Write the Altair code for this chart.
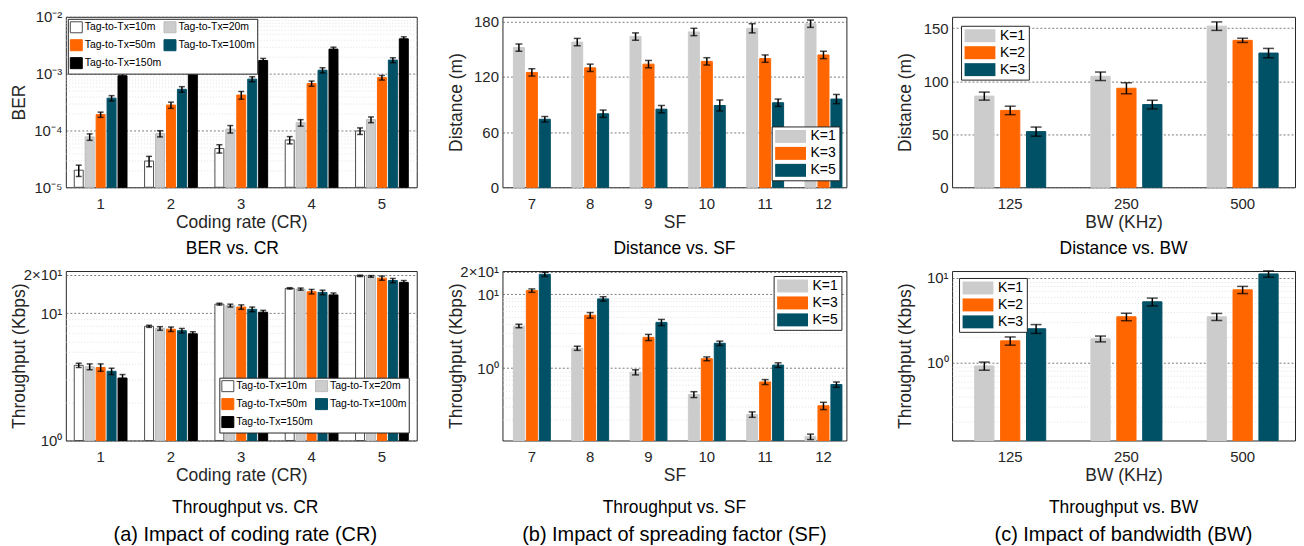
import altair as alt
import pandas as pd

FONT = "Liberation Sans"
TXT = "#262626"

# ---------------- (a) coding rate ----------------
cr_cats = ["1", "2", "3", "4", "5"]
cr_series = ["Tag-to-Tx=10m", "Tag-to-Tx=20m", "Tag-to-Tx=50m", "Tag-to-Tx=100m", "Tag-to-Tx=150m"]
cr_fills = ["#ffffff", "#cccccc", "#ff6600", "#005066", "#000000"]
cr_strokes = ["#4d4d4d", "#bdbdbd", "#ff6600", "#005066", "#000000"]

ber_10m = [2.0e-5, 2.9e-5, 4.8e-5, 6.8e-5, 9.8e-5]
ber_20m = [7.7e-5, 8.8e-5, 1.06e-4, 1.37e-4, 1.55e-4]
ber_50m = [1.9e-4, 2.8e-4, 4.2e-4, 6.7e-4, 8.5e-4]
ber_100m = [3.7e-4, 5.3e-4, 8.0e-4, 1.15e-3, 1.73e-3]
ber_150m = [9.2e-4, 1.12e-3, 1.7e-3, 2.7e-3, 4.1e-3]
ber_err_10m = [0.45e-5, 0.6e-5, 0.8e-5, 1.0e-5, 1.3e-5]
ber_err_20m = [1.0e-5, 1.1e-5, 1.6e-5, 1.8e-5, 1.8e-5]
ber_err_50m = [2.0e-5, 3.5e-5, 6.5e-5, 7.0e-5, 8.0e-5]
ber_err_100m = [4.0e-5, 6.0e-5, 8.0e-5, 1.2e-4, 1.7e-4]
ber_err_150m = [8.0e-5, 1.1e-4, 1.5e-4, 2.2e-4, 3.5e-4]

thr_cr_10m = [3.9, 7.9, 11.8, 15.7, 19.7]
thr_cr_20m = [3.8, 7.6, 11.5, 15.5, 19.5]
thr_cr_50m = [3.75, 7.5, 11.2, 14.8, 18.9]
thr_cr_100m = [3.5, 7.3, 10.75, 14.6, 18.1]
thr_cr_150m = [3.1, 6.9, 10.2, 13.95, 17.5]
thr_cr_err_10m = [0.15, 0.15, 0.2, 0.2, 0.25]
thr_cr_err_20m = [0.2, 0.25, 0.3, 0.3, 0.3]
thr_cr_err_50m = [0.25, 0.3, 0.45, 0.6, 0.7]
thr_cr_err_100m = [0.2, 0.3, 0.45, 0.6, 0.7]
thr_cr_err_150m = [0.2, 0.25, 0.35, 0.5, 0.6]

# ---------------- (b) spreading factor ----------------
sf_cats = ["7", "8", "9", "10", "11", "12"]
sf_series = ["K=1", "K=3", "K=5"]
k_fills = ["#cccccc", "#ff6600", "#005066"]

dist_sf_k1 = [152, 158, 164, 169, 173, 178]
dist_sf_k3 = [125, 130, 134, 137, 140, 144]
dist_sf_k5 = [74, 80, 85, 89, 92, 96]
dist_sf_err_k1 = [4, 4, 4, 4, 5, 4]
dist_sf_err_k3 = [4, 4, 4, 4, 4, 4]
dist_sf_err_k5 = [3, 4, 4, 6, 4, 5]

thr_sf_k1 = [3.71, 1.86, 0.88, 0.44, 0.236, 0.118]
thr_sf_k3 = [11.2, 5.2, 2.61, 1.34, 0.65, 0.31]
thr_sf_k5 = [18.6, 8.65, 4.16, 2.17, 1.10, 0.60]
thr_sf_err_k1 = [0.2, 0.12, 0.07, 0.04, 0.02, 0.01]
thr_sf_err_k3 = [0.6, 0.45, 0.25, 0.08, 0.05, 0.035]
thr_sf_err_k5 = [1.2, 0.6, 0.4, 0.15, 0.08, 0.05]

# ---------------- (c) bandwidth ----------------
bw_cats = ["125", "250", "500"]
bw_series = ["K=1", "K=2", "K=3"]

dist_bw_k1 = [86, 104.7, 152]
dist_bw_k2 = [72.5, 93.4, 138.6]
dist_bw_k3 = [52.5, 78, 126.6]
dist_bw_err_k1 = [3.8, 4, 4]
dist_bw_err_k2 = [4, 5.2, 2]
dist_bw_err_k3 = [4.3, 4.1, 4.4]

thr_bw_k1 = [0.91, 1.9, 3.46]
thr_bw_k2 = [1.8, 3.46, 7.2]
thr_bw_k3 = [2.5, 5.2, 11.1]
thr_bw_err_k1 = [0.1, 0.15, 0.33]
thr_bw_err_k2 = [0.2, 0.35, 0.7]
thr_bw_err_k3 = [0.3, 0.55, 0.95]


def make_df(cats, series, vals, errs):
    rows = []
    for s, v, e in zip(series, vals, errs):
        for c, vv, ee in zip(cats, v, e):
            rows.append({"cat": c, "series": s, "value": vv, "lo": vv - ee, "hi": vv + ee})
    return pd.DataFrame(rows)


RECT_SQ = "M-1,-0.92H1V0.92H-1Z"
RECT_WIDE = "M-2.38,-1H2.38V1H-2.38Z"


def leg_small(orient, offset):
    return alt.Legend(title=None, orient=orient, offset=offset, columns=2, direction="horizontal",
                      gridAlign="none", symbolType=RECT_SQ, symbolSize=144, labelFontSize=10.5,
                      labelFont=FONT, labelColor="black", strokeColor=TXT, fillColor="white",
                      padding=2, rowPadding=1, columnPadding=0, labelOffset=2, symbolStrokeWidth=1)


def leg_k(orient, offset):
    return alt.Legend(title=None, orient=orient, offset=offset, symbolType=RECT_WIDE,
                      symbolSize=169, symbolOffset=9, labelFontSize=14, labelFont=FONT,
                      labelColor="black", strokeColor=TXT, fillColor="white", padding=3,
                      rowPadding=3, labelOffset=13, symbolStrokeWidth=0)


def panel(df, cats, series, fills, strokes, w, h, ydomain, ylog, yticks, ylabels, minor,
          ytitle, xtitle, xpad, xoff, cap, legend, title, title_dx=0, subtitle=None, tick_w=1.5):
    common_axis = dict(labelPadding=4, minExtent=33, maxExtent=33, titlePadding=4.5,
                       labelOverlap=False, grid=True, gridWidth=0.8)
    if ylog:
        values = sorted(list(yticks) + list(minor))
        label_expr = " : ".join(f"datum.value == {v!r} ? '{l}'" for v, l in zip(yticks, ylabels)) + " : ''"
        test = " || ".join(f"datum.value == {v!r}" for v in yticks)
        yaxis = alt.Axis(values=values, labelExpr=label_expr,
                         gridColor={"condition": {"test": test, "value": "#5a5a5a"}, "value": "#d9d9d9"},
                         gridDash={"condition": {"test": test, "value": [2, 2]}, "value": [1, 2]},
                         **common_axis)
        yscale = alt.Scale(type="log", domain=ydomain, nice=False)
    else:
        yaxis = alt.Axis(values=yticks, gridColor="#5a5a5a", gridDash=[2, 2], **common_axis)
        yscale = alt.Scale(domain=ydomain, nice=False, zero=False)
    base_val = ydomain[0]

    x_enc = alt.X("cat:N", sort=cats, title=xtitle, scale=alt.Scale(**xpad),
                  axis=alt.Axis(labelAngle=0, grid=False, labelPadding=13, titlePadding=2,
                                ticks=True, tickSize={"expr": "-4"}, tickColor=TXT, tickWidth=1))
    xo_enc = alt.XOffset("series:N", sort=series, scale=alt.Scale(**xoff))
    fill_enc = alt.Fill("series:N", sort=series, scale=alt.Scale(domain=series, range=fills), legend=legend)
    stroke_enc = alt.Stroke("series:N", sort=series, scale=alt.Scale(domain=series, range=strokes), legend=legend)

    src = alt.Chart(df)
    bars = src.mark_bar(strokeWidth=1).encode(
        x=x_enc, xOffset=xo_enc,
        y=alt.Y("value:Q", scale=yscale, axis=yaxis, title=ytitle),
        y2=alt.datum(base_val), fill=fill_enc, stroke=stroke_enc)
    rules = src.mark_rule(color="black", strokeWidth=tick_w).encode(
        x=x_enc, xOffset=xo_enc,
        y=alt.Y("lo:Q", scale=yscale, axis=yaxis, title=ytitle), y2="hi:Q")
    lo_t = src.mark_tick(color="black", thickness=tick_w, size=cap).encode(
        x=x_enc, xOffset=xo_enc, y=alt.Y("lo:Q", scale=yscale, axis=yaxis, title=ytitle))
    hi_t = src.mark_tick(color="black", thickness=tick_w, size=cap).encode(
        x=x_enc, xOffset=xo_enc, y=alt.Y("hi:Q", scale=yscale, axis=yaxis, title=ytitle))

    tkw = dict(text=title, orient="bottom", anchor="middle", frame="group", fontSize=17.5,
               fontWeight="normal", font=FONT, color="black", offset=9, dx=title_dx)
    if subtitle:
        tkw.update(offset=15, subtitle=subtitle, subtitleFontSize=20, subtitleFont=FONT,
                   subtitleColor="black", subtitlePadding=9)
    return alt.layer(bars, rules, lo_t, hi_t).properties(
        width=w, height=h, title=alt.TitleParams(**tkw),
        view=alt.ViewBackground(stroke=TXT, strokeWidth=1))


def spacer(w):
    return alt.Chart(pd.DataFrame({"s": [0]})).mark_point(opacity=0).properties(
        width=w, height=1, view=alt.ViewBackground(stroke=None))


minor_e5 = [2e-5, 3e-5, 4e-5, 5e-5, 6e-5, 7e-5, 8e-5, 9e-5,
            2e-4, 3e-4, 4e-4, 5e-4, 6e-4, 7e-4, 8e-4, 9e-4,
            2e-3, 3e-3, 4e-3, 5e-3, 6e-3, 7e-3, 8e-3, 9e-3]
minor_0 = [2, 3, 4, 5, 6, 7, 8, 9]
minor_m1 = [0.2, 0.3, 0.4, 0.5, 0.6, 0.7, 0.8, 0.9, 2, 3, 4, 5, 6, 7, 8, 9]

pad_a = dict(paddingInner=0.25, paddingOuter=0.12)
off_a = dict(paddingInner=0.18, paddingOuter=0)
pad_b = dict(paddingInner=0.367, paddingOuter=0.132, align=0.71)
off_b = dict(paddingInner=0.15, paddingOuter=0)
pad_c = dict(paddingInner=0.389, paddingOuter=0.17, align=0.573)
off_c = dict(paddingInner=0.258, paddingOuter=0)

df_ber = make_df(cr_cats, cr_series, [ber_10m, ber_20m, ber_50m, ber_100m, ber_150m],
                 [ber_err_10m, ber_err_20m, ber_err_50m, ber_err_100m, ber_err_150m])
df_thr_cr = make_df(cr_cats, cr_series, [thr_cr_10m, thr_cr_20m, thr_cr_50m, thr_cr_100m, thr_cr_150m],
                    [thr_cr_err_10m, thr_cr_err_20m, thr_cr_err_50m, thr_cr_err_100m, thr_cr_err_150m])
df_dist_sf = make_df(sf_cats, sf_series, [dist_sf_k1, dist_sf_k3, dist_sf_k5],
                     [dist_sf_err_k1, dist_sf_err_k3, dist_sf_err_k5])
df_thr_sf = make_df(sf_cats, sf_series, [thr_sf_k1, thr_sf_k3, thr_sf_k5],
                    [thr_sf_err_k1, thr_sf_err_k3, thr_sf_err_k5])
df_dist_bw = make_df(bw_cats, bw_series, [dist_bw_k1, dist_bw_k2, dist_bw_k3],
                     [dist_bw_err_k1, dist_bw_err_k2, dist_bw_err_k3])
df_thr_bw = make_df(bw_cats, bw_series, [thr_bw_k1, thr_bw_k2, thr_bw_k3],
                    [thr_bw_err_k1, thr_bw_err_k2, thr_bw_err_k3])

p_ber = panel(df_ber, cr_cats, cr_series, cr_fills, cr_strokes, 352, 171,
              [1e-5, 1e-2], True, [1e-5, 1e-4, 1e-3, 1e-2], ["10⁻⁵", "10⁻⁴", "10⁻³", "10⁻²"], minor_e5,
              "BER", "Coding rate (CR)", pad_a, off_a, 6, leg_small("top-left", 2), "BER vs. CR", title_dx=-9)
p_thr_cr = panel(df_thr_cr, cr_cats, cr_series, cr_fills, cr_strokes, 352, 170,
                 [1, 21.5], True, [1, 10, 20], ["10⁰", "10¹", "2×10¹"], minor_0,
                 "Throughput (Kbps)", "Coding rate (CR)", pad_a, off_a, 6, leg_small("bottom-right", 8),
                 "Throughput vs. CR", title_dx=4, subtitle="(a) Impact of coding rate (CR)")
p_dist_sf = panel(df_dist_sf, sf_cats, sf_series, k_fills, k_fills, 345, 171,
                  [0, 185.5], False, [0, 60, 120, 180], None, None,
                  "Distance (m)", "SF", pad_b, off_b, 7, leg_k("bottom-right", 7), "Distance vs. SF")
p_thr_sf = panel(df_thr_sf, sf_cats, sf_series, k_fills, k_fills, 345, 170,
                 [0.105, 20.6], True, [1, 10, 20], ["10⁰", "10¹", "2×10¹"], minor_m1,
                 "Throughput (Kbps)", "SF", pad_b, off_b, 7, leg_k("top-right", 5),
                 "Throughput vs. SF", subtitle="(b) Impact of spreading factor (SF)")
p_dist_bw = panel(df_dist_bw, bw_cats, bw_series, k_fills, k_fills, 344, 171,
                  [0, 160.8], False, [0, 50, 100, 150], None, None,
                  "Distance (m)", "BW (KHz)", pad_c, off_c, 11, leg_k("top-left", 9), "Distance vs. BW")
p_thr_bw = panel(df_thr_bw, bw_cats, bw_series, k_fills, k_fills, 344, 170,
                 [0.12, 12.0], True, [1, 10], ["10⁰", "10¹"], minor_m1,
                 "Throughput (Kbps)", "BW (KHz)", pad_c, off_c, 11, leg_k("top-left", 7),
                 "Throughput vs. BW", subtitle="(c) Impact of bandwidth (BW)")

chart = alt.concat(
    p_ber, spacer(86), p_dist_sf, spacer(106), p_dist_bw,
    p_thr_cr, spacer(86), p_thr_sf, spacer(106), p_thr_bw,
    columns=5, spacing={"row": 84, "column": 0}, bounds="flush",
).resolve_scale(
    x="independent", y="independent", xOffset="independent",
    fill="independent", stroke="independent"
).resolve_legend(
    fill="independent", stroke="independent"
).properties(
    padding={"left": 2, "top": 0, "right": 0, "bottom": 0}
).configure(
    font=FONT
).configure_axis(
    labelFont=FONT, titleFont=FONT, labelFontSize=15, titleFontSize=17.5,
    labelColor=TXT, titleColor=TXT, titleFontWeight="normal", domain=False, ticks=False
).configure_view(
    stroke=TXT
)

chart.save("out.html", embed_options={"renderer": "svg", "actions": False})
